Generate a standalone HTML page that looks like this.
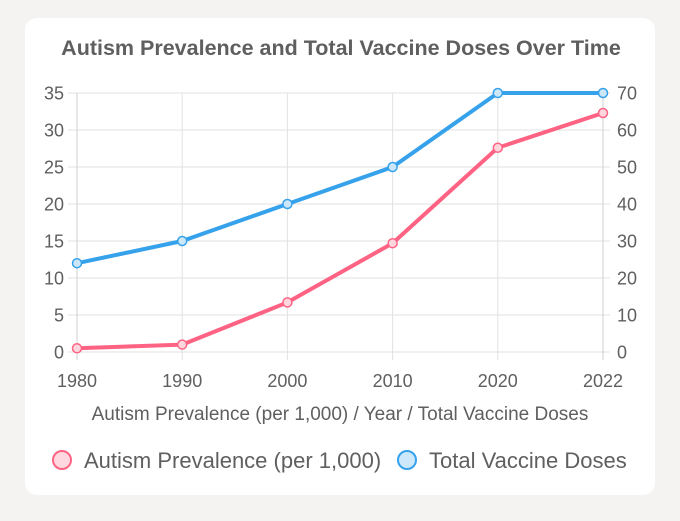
<!DOCTYPE html>
<html><head><meta charset="utf-8"><style>
body{margin:0;background:#f4f3f2;width:680px;height:521px;overflow:hidden;font-family:"Liberation Sans",sans-serif}
#card{position:absolute;left:25px;top:18px;width:630px;height:477px;background:#fff;border-radius:12px}
</style></head><body>
<div id="card"></div>
<svg id="chart" width="680" height="521" style="position:absolute;left:0;top:0">
<text x="341" y="55" text-anchor="middle" font-size="21.5" font-weight="bold" fill="#5f5f5f">Autism Prevalence and Total Vaccine Doses Over Time</text>
<text x="340" y="420" text-anchor="middle" font-size="19" fill="#5f5f5f">Autism Prevalence (per 1,000) / Year / Total Vaccine Doses</text>
<g>
<g><circle cx="62" cy="460" r="9" fill="rgba(255,99,132,0.25)" stroke="#ff6384" stroke-width="2"/><text x="84" y="468" font-size="22" fill="#5f5f5f">Autism Prevalence (per 1,000)</text></g>
<g><circle cx="407" cy="460" r="9" fill="rgba(54,162,235,0.25)" stroke="#36a2eb" stroke-width="2"/><text x="429" y="468" font-size="22" fill="#5f5f5f">Total Vaccine Doses</text></g>
</g>
<g id="grid"></g><g id="marks"></g>
</svg>
<script>
const categories=["1980","1990","2000","2010","2020","2022"];
const autism=[0.5,1.0,6.7,14.7,27.6,32.3];
const vaccine=[24,30,40,50,70,70];
const leftTicks=[0,5,10,15,20,25,30,35];
const rightTicks=[0,10,20,30,40,50,60,70];
const NS="http://www.w3.org/2000/svg";
const x0=77,x1=603,y0=352,y1=93;
const xs=i=>x0+(x1-x0)*i/(categories.length-1);
const yl=v=>y0-(y0-y1)*v/35;
const yr=v=>y0-(y0-y1)*v/70;
function mk(t,a,p){const e=document.createElementNS(NS,t);for(const k in a)e.setAttribute(k,a[k]);p.appendChild(e);return e;}
const g=document.getElementById('grid'),m=document.getElementById('marks');
leftTicks.forEach((v,i)=>{const y=yl(v);
 const l=mk('line',{x1:68,x2:610,y1:y,y2:y,stroke:'#e2e2e2','stroke-width':1},g);
 
 const t=mk('text',{x:64,y:y+6.5,'text-anchor':'end','font-size':18,fill:'#5f5f5f'},g);t.textContent=v;
 
 const r=mk('text',{x:617,y:yr(rightTicks[i])+6.5,'font-size':18,fill:'#5f5f5f'},g);r.textContent=rightTicks[i];
 });
categories.forEach((c,i)=>{const x=xs(i);
 const l=mk('line',{x1:x,x2:x,y1:y1,y2:y0+8,stroke:i==0||i==categories.length-1?'#cfcfcf':'#e2e2e2','stroke-width':1},g);
 
 const t=mk('text',{x:x,y:387,'text-anchor':'middle','font-size':18,fill:'#5f5f5f'},g);t.textContent=c;
 });
function series(vals,yf,col,fill,name){
 const p=mk('polyline',{points:vals.map((v,i)=>xs(i)+','+yf(v)).join(' '),fill:'none',stroke:col,'stroke-width':4,'stroke-linejoin':'round'},m);
 
 vals.forEach((v,i)=>{const c=mk('circle',{cx:xs(i),cy:yf(v),r:4.5,fill:fill,stroke:col,'stroke-width':1.5},m);
 });}
series(autism,yl,'#ff6384','#ffd6de','autism');
series(vaccine,yr,'#36a2eb','#cde7fa','vaccine');
</script>
</body></html>
